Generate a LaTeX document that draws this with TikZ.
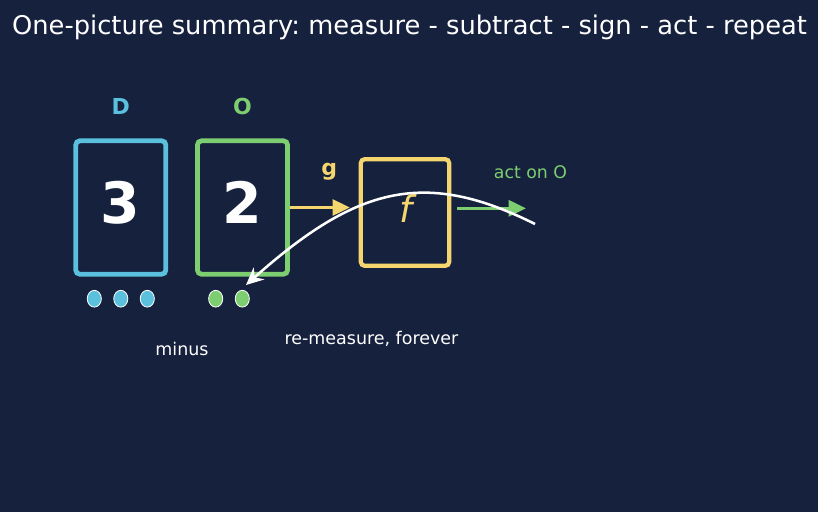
\documentclass[tikz,border=0pt]{standalone}
\usepackage{fontspec}
\setmainfont{DejaVu Sans}
\frenchspacing
\usetikzlibrary{arrows.meta,shapes.geometric}
\definecolor{bgnavy}{RGB}{22,33,62}
\definecolor{dcyan}{RGB}{91,192,222}
\definecolor{ogreen}{RGB}{125,206,112}
\definecolor{fyellow}{RGB}{245,213,110}

\begin{document}
\begin{tikzpicture}[x=0.75pt,y=-0.75pt,
	card/.style={draw=#1, line width=3.6pt, rounded corners=3pt, inner sep=0pt,
		minimum width=67.5pt, minimum height=100pt},
	digit/.style={text=white, font=\fontsize{42.7}{48}\selectfont\bfseries},
	tag/.style={text=#1, font=\fontsize{16.5}{19}\selectfont\bfseries},
	pebble/.style={ellipse, fill=#1, draw=white, line width=0.6pt, inner sep=0pt,
		minimum width=10.6pt, minimum height=12.6pt},
	note/.style={text=white, font=\fontsize{13.1}{15}\selectfont},
	flow/.style={draw=#1, line width=2.3pt, -{Triangle[length=13pt, width=12pt]}}]
	\fill[bgnavy] (0,0) rectangle (818,512);
	\node[text=white, font=\fontsize{19.3}{23}\selectfont] (title) at (409.5,27.6)
		{One-picture summary: measure - subtract - sign - act - repeat};
	% the two cards
	\node[card=dcyan] (dbox) at (120.8,207.5) {};
	\node[card=ogreen] (obox) at (242.5,207.5) {};
	\node[digit] (dval) at (120.8,202.5) {3};
	\node[digit] (oval) at (242.5,202.5) {2};
	\node[tag=dcyan] (dname) at (120.8,106.5) {D};
	\node[tag=ogreen] (oname) at (242.5,106.5) {O};
	\foreach \i/\x in {1/94.3, 2/120.8, 3/147.3}
		\node[pebble=dcyan] (d\i) at (\x,298.7) {};
	\foreach \i/\x in {1/215.7, 2/242.3}
		\node[pebble=ogreen] (o\i) at (\x,298.7) {};
	% sign box
	\node[draw=fyellow, line width=3.2pt, rounded corners=3pt, inner sep=0pt,
		minimum width=66.3pt, minimum height=80pt] (fbox) at (405,212.5) {};
	\node[text=fyellow, font=\fontsize{27.6}{32}\selectfont\itshape] (fval) at (406,209) {f};
	\draw[flow=fyellow, shorten >=6.6pt] (obox.east) -- (obox.east -| fbox.west);
	\node[tag=fyellow] (gname) at (329.3,172) {g};
	\coordinate (acttip) at (526,208.3);
	\draw[flow=ogreen, shorten <=4.4pt] (fbox.east |- acttip) -- (acttip);
	\node[text=ogreen, font=\fontsize{13}{15}\selectfont] (actname) at (530.5,171.7) {act on O};
	% loop back
	\coordinate (loopstart) at (535,224);
	\coordinate (backtip) at (246,285);
	\draw[white, line width=1.9pt, -{Stealth[length=13pt, width=12pt]}]
		(loopstart) .. controls (425,169) and (357,186) .. (backtip);
	\node[note] (minus) at (182,348.5) {minus};
	\node[note] (again) at (371.5,339) {re-measure, forever};
\end{tikzpicture}
\end{document}
